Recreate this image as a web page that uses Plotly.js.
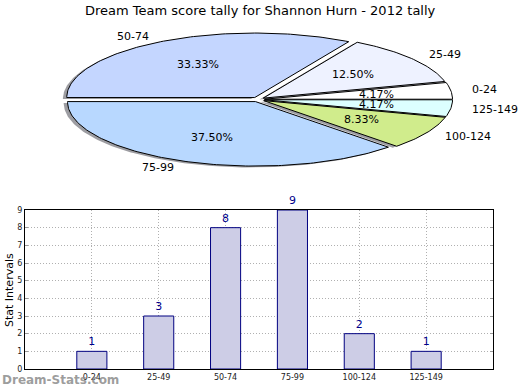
<!DOCTYPE html>
<html>
<head>
<meta charset="utf-8">
<script src="https://cdn.plot.ly/plotly-3.0.1.min.js"></script>
<style>html,body{margin:0;padding:0;background:#fff}#chart{width:520px;height:390px}</style>
</head>
<body>
<div id="chart"></div>
<script>
const categories = ['0-24', '25-49', '50-74', '75-99', '100-124', '125-149'];
const counts = [1, 3, 8, 9, 2, 1];
const pieColors = ['#ffffff', '#eef2ff', '#c4d6ff', '#b8d8ff', '#d0ec8c', '#dcffff'];
const titleText = 'Dream Team score tally for Shannon Hurn - 2012 tally';

// pie geometry (pixel space of the overlay axes)
const cx = 258, cy = 99.5, rx = 188, ry = 64.5, ex = 0.035;
const total = counts.reduce((a, b) => a + b, 0);

const traces = [];
const annotations = [];
const shadows = [];
const wedges = [];
let start = 0;
counts.forEach((v, i) => {
  const frac = v / total;
  const t1 = start * 360, t2 = (start + frac) * 360;
  const mid = (t1 + t2) / 2 * Math.PI / 180;
  const ox = cx + ex * rx * Math.cos(mid);
  const oy = cy - ex * ry * Math.sin(mid);
  const xs = [ox], ys = [oy];
  const n = Math.max(4, Math.ceil(t2 - t1));
  for (let k = 0; k <= n; k++) {
    const a = (t1 + (t2 - t1) * k / n) * Math.PI / 180;
    xs.push(ox + rx * Math.cos(a));
    ys.push(oy - ry * Math.sin(a));
  }
  xs.push(ox); ys.push(oy);
  shadows.push({
    type: 'scatter', mode: 'lines', x: xs.map(x => x - 3.8), y: ys.map(y => y + 1.4),
    xaxis: 'x2', yaxis: 'y2', fill: 'toself', fillcolor: 'rgba(60,60,70,0.5)',
    line: {width: 0, color: 'rgba(0,0,0,0)'}, hoverinfo: 'skip', showlegend: false
  });
  wedges.push({
    type: 'scatter', mode: 'lines', x: xs, y: ys, xaxis: 'x2', yaxis: 'y2',
    fill: 'toself', fillcolor: pieColors[i], line: {width: 1, color: '#000'},
    hoverinfo: 'skip', showlegend: false
  });
  const lx = ox + 1.1 * rx * Math.cos(mid);
  const ly = oy - 1.1 * ry * Math.sin(mid);
  annotations.push({
    xref: 'x2', yref: 'y2', x: lx, y: ly, text: categories[i], showarrow: false,
    xanchor: Math.cos(mid) < 0 ? 'right' : 'left', yanchor: 'middle',
    font: {family: 'DejaVu Sans', size: 11, color: '#000'}
  });
  const px = ox + 0.6 * rx * Math.cos(mid);
  const py = oy - 0.6 * ry * Math.sin(mid);
  annotations.push({
    xref: 'x2', yref: 'y2', x: px, y: py, text: (frac * 100).toFixed(2) + '%', showarrow: false,
    xanchor: 'center', yanchor: 'middle',
    font: {family: 'DejaVu Sans', size: 11, color: '#000'}
  });
  start += frac;
});

traces.push({
  type: 'bar', x: categories, y: counts, width: 0.45,
  marker: {color: '#cdcde6', line: {color: '#000080', width: 1}},
  text: counts.map(String), textposition: 'outside', cliponaxis: false,
  textfont: {family: 'DejaVu Sans', size: 11, color: '#00008b'},
  hoverinfo: 'skip', showlegend: false
});
shadows.forEach(t => traces.push(t));
wedges.forEach(t => traces.push(t));

annotations.push({
  xref: 'paper', yref: 'paper', x: 0.5, y: 1, yshift: -1, xanchor: 'center', yanchor: 'top',
  text: titleText, showarrow: false, font: {family: 'DejaVu Sans', size: 13, color: '#000'}
});
annotations.push({
  xref: 'paper', yref: 'paper', x: 9 / 520, y: (390 - 290) / 390, xanchor: 'center', yanchor: 'middle',
  text: 'Stat Intervals', textangle: -90, showarrow: false,
  font: {family: 'DejaVu Sans', size: 11, color: '#000'}
});
annotations.push({
  xref: 'paper', yref: 'paper', x: 259 / 520, y: (390 - 390) / 390, yshift: -7, xanchor: 'center', yanchor: 'middle',
  text: 'Frequency', showarrow: false,
  font: {family: 'DejaVu Sans', size: 11, color: '#000'}
});
annotations.push({
  xref: 'paper', yref: 'paper', x: 0, y: (390 - 380) / 390, xanchor: 'left', yanchor: 'middle',
  text: '<b>Dream-Stats.com</b>', showarrow: false,
  font: {family: 'DejaVu Sans', size: 12, color: 'rgba(140,140,140,0.85)'}
});

const layout = {
  width: 520, height: 390, margin: {l: 0, r: 0, t: 0, b: 0},
  paper_bgcolor: '#fff', plot_bgcolor: 'rgba(0,0,0,0)',
  showlegend: false,
  xaxis: {
    domain: [25 / 520, 493 / 520], type: 'category', range: [-1, 6],
    showgrid: true, gridcolor: '#b0b0b0', griddash: '1px,2px', gridwidth: 1,
    showline: true, mirror: true, linecolor: '#000', linewidth: 1,
    ticks: '', tickfont: {family: 'DejaVu Sans', size: 8, color: '#222'},
    fixedrange: true, zeroline: false
  },
  yaxis: {
    domain: [21 / 390, 180 / 390], range: [0, 9], dtick: 1,
    showgrid: true, gridcolor: '#b0b0b0', griddash: '1px,2px', gridwidth: 1,
    showline: true, mirror: 'ticks', linecolor: '#000', linewidth: 1,
    ticks: 'inside', ticklen: 3, tickcolor: '#999',
    tickfont: {family: 'DejaVu Sans', size: 8, color: '#222'},
    fixedrange: true, zeroline: false
  },
  xaxis2: {domain: [0, 1], range: [0, 520], visible: false, fixedrange: true, anchor: 'y2'},
  yaxis2: {domain: [0, 1], range: [390, 0], visible: false, fixedrange: true, anchor: 'x2'},
  annotations: annotations
};

Plotly.newPlot('chart', traces, layout, {staticPlot: true, displayModeBar: false});
</script>
</body>
</html>
